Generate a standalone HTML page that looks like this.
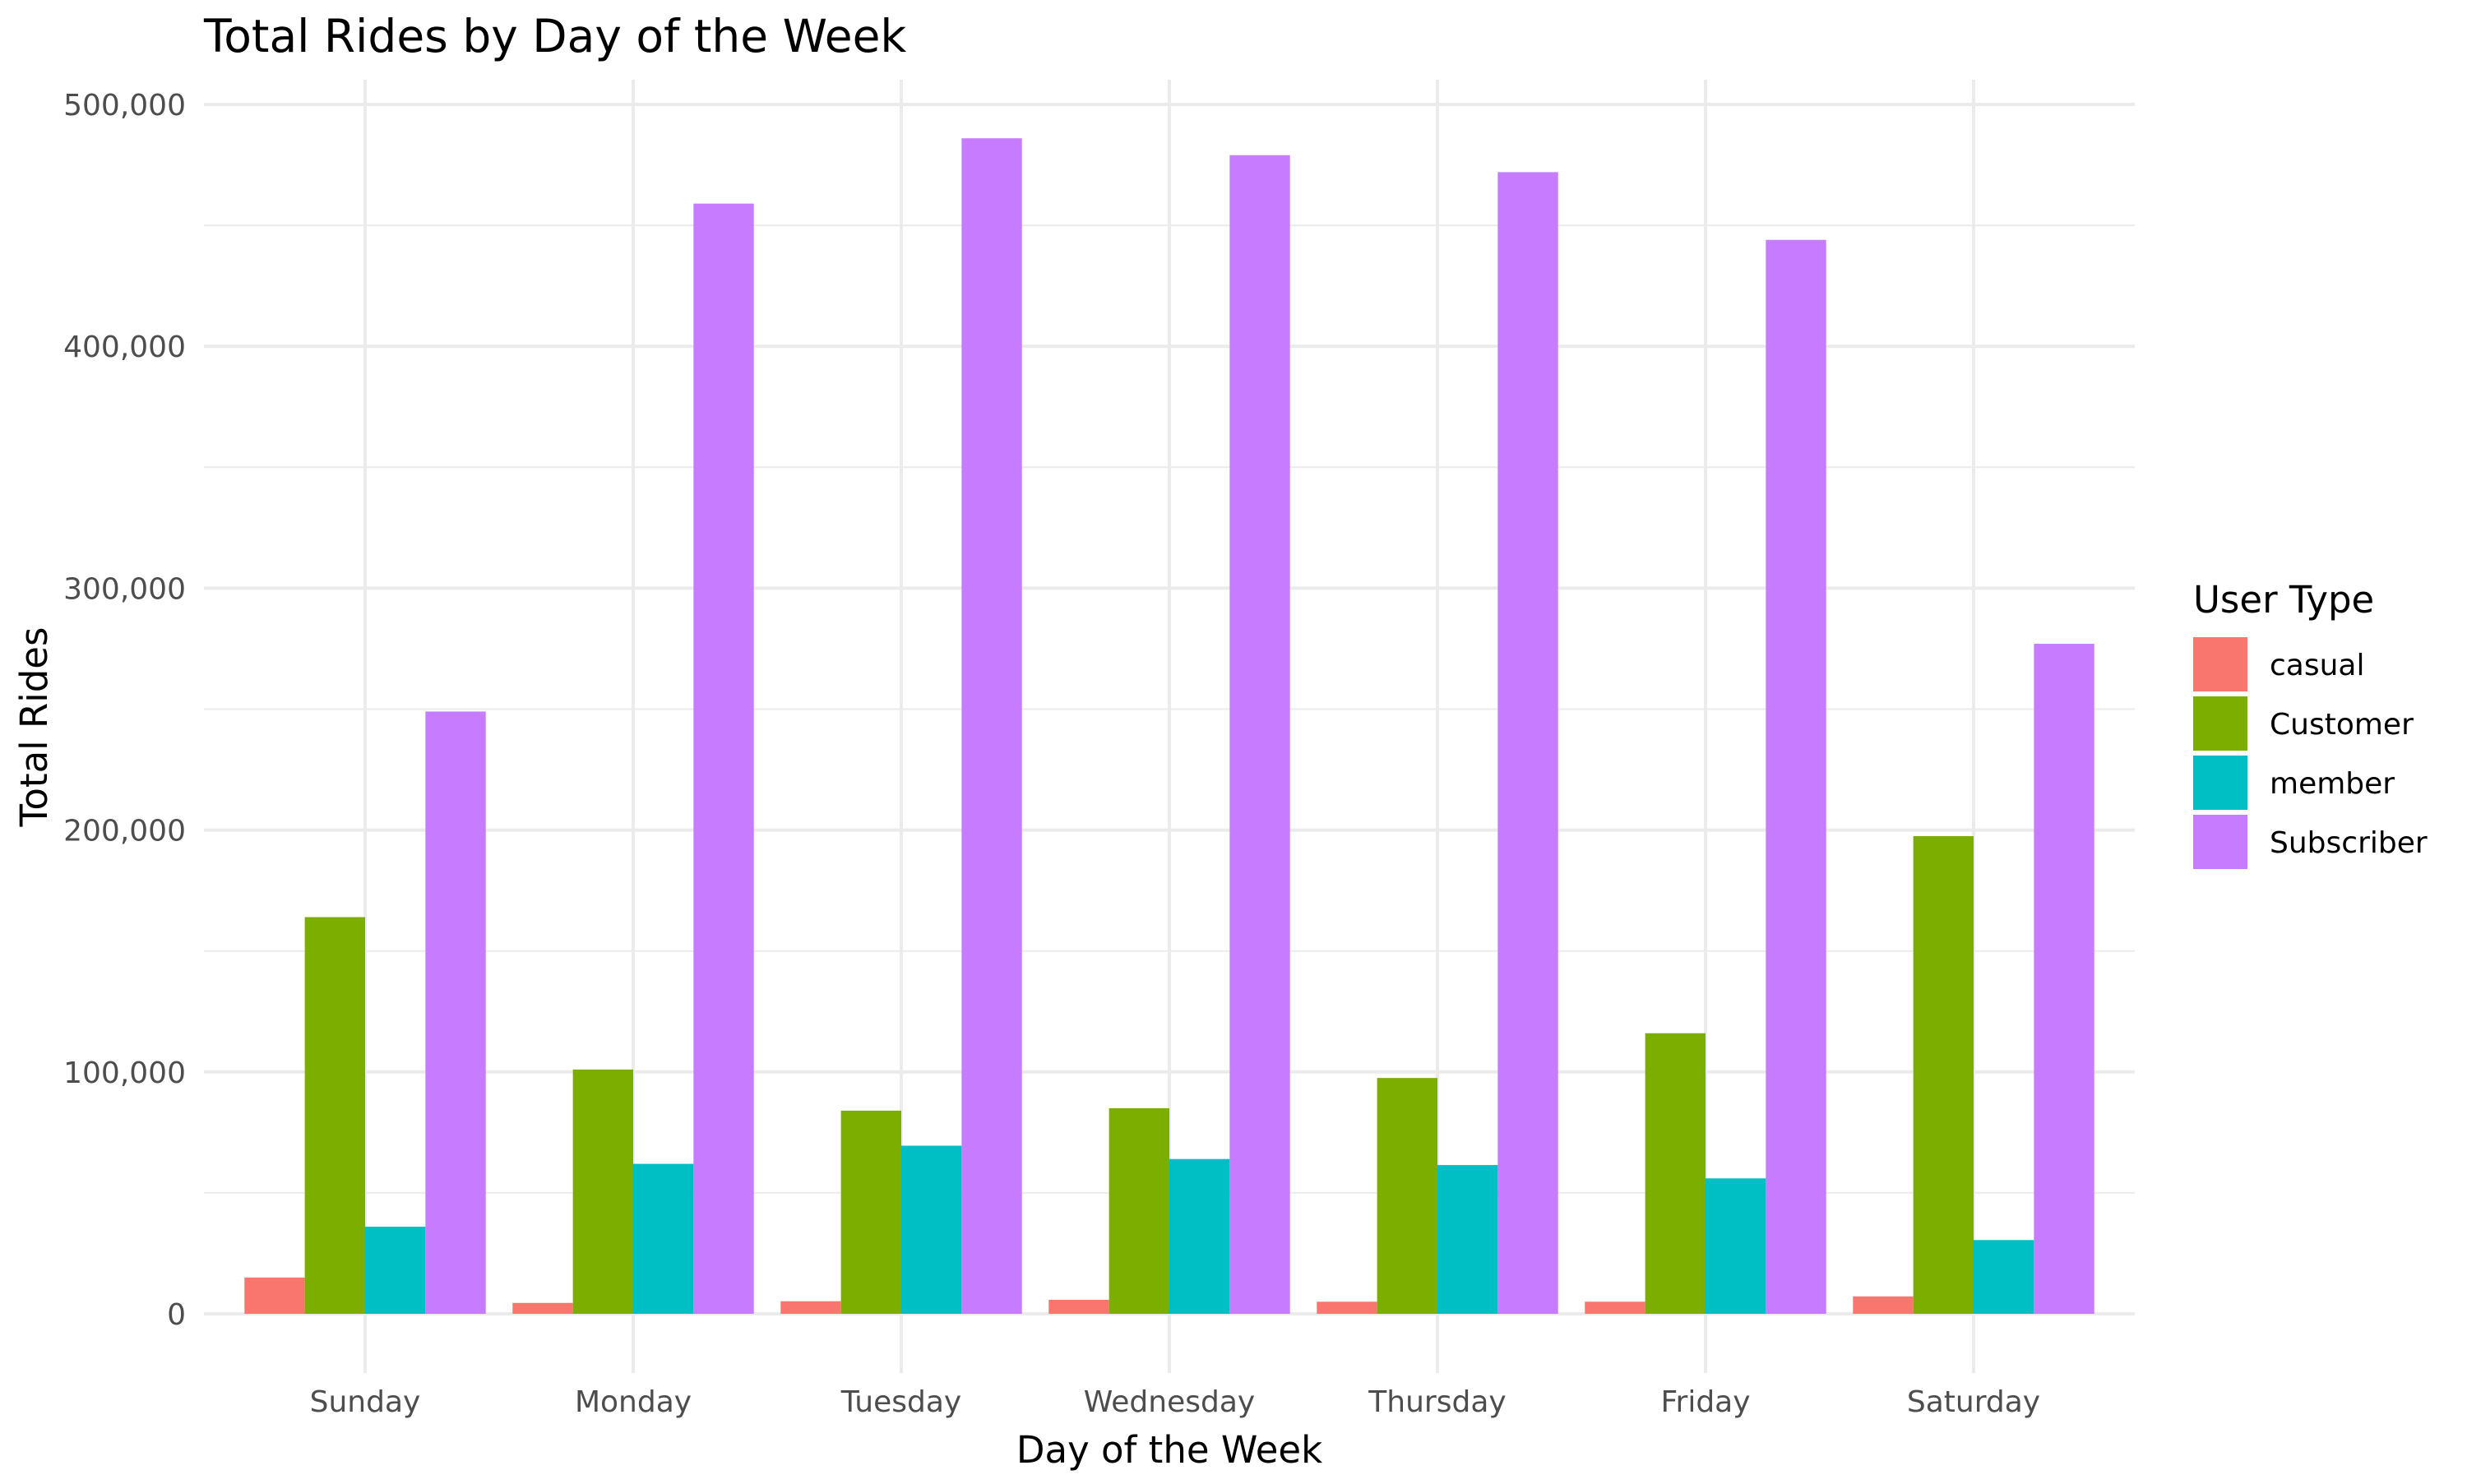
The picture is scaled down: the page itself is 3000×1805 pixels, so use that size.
<!DOCTYPE html>
<html><head><meta charset="utf-8"><style>
html,body{margin:0;padding:0;background:#fff;}
svg text{font-family:"DejaVu Sans","Liberation Sans",sans-serif;}
</style></head><body>
<svg id="chart" width="3000" height="1800" viewBox="0 0 3000 1800" xmlns="http://www.w3.org/2000/svg">
<rect width="3000" height="1800" fill="#fff"/>
<g id="grid"></g>
<g id="bars"></g>
<g id="axes"></g>
<text x="248" y="63" font-size="55" fill="#000">Total Rides by Day of the Week</text>
<text x="1422" y="1779" font-size="45" text-anchor="middle" fill="#000">Day of the Week</text>
<text x="0" y="0" font-size="45" text-anchor="middle" fill="#000" transform="translate(57,884) rotate(-90)">Total Rides</text>
<g id="legend">
<text x="2667" y="745" font-size="45" fill="#000">User Type</text>
</g>
</svg>
<script>
const days = ["Sunday","Monday","Tuesday","Wednesday","Thursday","Friday","Saturday"];
const seriesNames = ["casual","Customer","member","Subscriber"];
const casual = [15000,4500,5200,5800,5000,5000,7200];
const customer = [164000,101000,84000,85000,97500,116000,197500];
const member = [36000,62000,69500,64000,61500,56000,30500];
const subscriber = [249000,459000,486000,479000,472000,444000,277000];
const yTicks = [0,100000,200000,300000,400000,500000];
const yTickLabels = ["0","100,000","200,000","300,000","400,000","500,000"];
const colors = ["#F8766D","#7CAE00","#00BFC4","#C77CFF"];

const NS="http://www.w3.org/2000/svg";
const series=[casual,customer,member,subscriber];
const y0px=1598, y500=127;
function yScale(v){return y0px-(v/500000)*(y0px-y500);}
const xStart=444, xStep=326;
function xScale(i){return xStart+i*xStep;}
const panelL=248, panelR=2596, panelT=97, panelB=1670;
function mk(tag,attrs,parent){const e=document.createElementNS(NS,tag);for(const k in attrs)e.setAttribute(k,attrs[k]);parent.appendChild(e);return e;}
const grid=document.getElementById('grid'),bars=document.getElementById('bars'),axes=document.getElementById('axes'),legend=document.getElementById('legend');
for(let i=0;i<yTicks.length-1;i++){
  const v=(yTicks[i]+yTicks[i+1])/2;
  const l=mk('line',{x1:panelL,x2:panelR,y1:yScale(v),y2:yScale(v),stroke:'#EBEBEB','stroke-width':2},grid);
  
  
}
yTicks.forEach((v,i)=>{
  const l=mk('line',{x1:panelL,x2:panelR,y1:yScale(v),y2:yScale(v),stroke:'#EBEBEB','stroke-width':4},grid);
  
  
  const t=mk('text',{x:226,y:yScale(v)+13,'font-size':36,'text-anchor':'end',fill:'#4D4D4D'},axes);
  t.textContent=yTickLabels[i];
  
  
});
days.forEach((d,i)=>{
  const l=mk('line',{x1:xScale(i),x2:xScale(i),y1:panelT,y2:panelB,stroke:'#EBEBEB','stroke-width':4},grid);
  
  
  const t=mk('text',{x:xScale(i),y:1717,'font-size':36,'text-anchor':'middle',fill:'#4D4D4D'},axes);
  t.textContent=d;
  
  
  const groupW=xStep*0.9, bw=groupW/4;
  series.forEach((s,j)=>{
    const x=xScale(i)-groupW/2+j*bw;
    const y=yScale(s[i]);
    const r=mk('rect',{x:x,y:y,width:bw,height:y0px-y,fill:colors[j]},bars);
    
    
  });
});
seriesNames.forEach((n,j)=>{
  const y=775+j*72;
  const r=mk('rect',{x:2667,y:y,width:66,height:66,fill:colors[j]},legend);
  
  
  const t=mk('text',{x:2760,y:y+46,'font-size':36,fill:'#000'},legend);
  t.textContent=n;
  
  
});
</script>
</body></html>
